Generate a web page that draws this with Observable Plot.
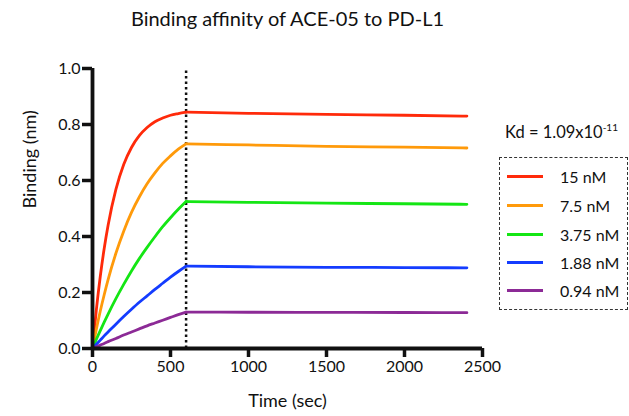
<!DOCTYPE html>
<html>
<head>
<meta charset="utf-8">
<script src="https://cdn.jsdelivr.net/npm/d3@7"></script>
<script src="https://cdn.jsdelivr.net/npm/@observablehq/plot@0.6"></script>
<style>
  body { margin: 0; background: #fff; font-family: Lato, "Open Sans", sans-serif; }
  #wrap { position: relative; width: 629px; height: 416px; }
  #kd { position: absolute; left: 505px; top: 121px; font-size: 16.5px; color: #111; white-space: nowrap; }
  #kd sup { font-size: 10px; }
  #legend { position: absolute; left: 499px; top: 157px; width: 129px; height: 153px;
            border: 1.5px dashed #333; box-sizing: border-box; }
  .row { position: absolute; left: 7px; height: 20px; display: flex; align-items: center; }
  .swatch { width: 36px; height: 3px; margin-right: 17px; }
  .lab { font-size: 16px; color: #111; }
</style>
</head>
<body>
<div id="wrap">
  <div id="chart"></div>
  <div id="kd"></div>
  <div id="legend"></div>
</div>
<script>
const title = "Binding affinity of ACE-05 to PD-L1";
const xLabel = "Time (sec)";
const yLabel = "Binding (nm)";
const kdText = "Kd = 1.09x10";
const kdExp = "-11";

const concentrations = ["15 nM", "7.5 nM", "3.75 nM", "1.88 nM", "0.94 nM"];
const colors = ["#ff2a0a", "#ff9a0a", "#14e614", "#143cff", "#8c2a96"];

const xTicks = [0, 500, 1000, 1500, 2000, 2500];
const yTicks = [0, 0.2, 0.4, 0.6, 0.8, 1.0];
const injectionEnd = 600;

// association phase
const assocTimes = [0, 25, 50, 75, 100, 150, 200, 250, 300, 350, 400, 450, 500, 550, 600];
const assoc15   = [0, 0.140, 0.258, 0.357, 0.440, 0.568, 0.657, 0.718, 0.760, 0.789, 0.810, 0.823, 0.833, 0.839, 0.844];
const assoc7_5  = [0, 0.070, 0.134, 0.192, 0.246, 0.340, 0.419, 0.486, 0.541, 0.588, 0.627, 0.661, 0.688, 0.712, 0.731];
const assoc3_75 = [0, 0.033, 0.064, 0.094, 0.123, 0.178, 0.229, 0.277, 0.321, 0.361, 0.399, 0.435, 0.467, 0.497, 0.525];
const assoc1_88 = [0, 0.015, 0.030, 0.045, 0.059, 0.087, 0.114, 0.140, 0.165, 0.188, 0.211, 0.233, 0.255, 0.275, 0.294];
const assoc0_94 = [0, 0.006, 0.012, 0.018, 0.0245, 0.036, 0.048, 0.059, 0.070, 0.081, 0.091, 0.101, 0.111, 0.121, 0.130];

// dissociation phase
const dissTimes = [600, 1000, 1500, 2000, 2400];
const diss15   = [0.844, 0.840, 0.836, 0.833, 0.830];
const diss7_5  = [0.731, 0.727, 0.722, 0.719, 0.716];
const diss3_75 = [0.525, 0.522, 0.519, 0.517, 0.515];
const diss1_88 = [0.294, 0.292, 0.290, 0.289, 0.288];
const diss0_94 = [0.130, 0.1295, 0.129, 0.1285, 0.128];

const assocSeries = [assoc15, assoc7_5, assoc3_75, assoc1_88, assoc0_94];
const dissSeries = [diss15, diss7_5, diss3_75, diss1_88, diss0_94];

const data = [];
concentrations.forEach((c, i) => {
  assocTimes.forEach((t, j) => data.push({t, v: assocSeries[i][j], series: c, seg: c + "-a"}));
  dissTimes.forEach((t, j) => data.push({t, v: dissSeries[i][j], series: c, seg: c + "-d"}));
});

const font = "Lato, 'Open Sans', sans-serif";

const chart = Plot.plot({
  width: 629,
  height: 416,
  marginLeft: 92,
  marginRight: 147,
  marginTop: 68,
  marginBottom: 68,
  style: {fontFamily: font, background: "white", color: "#111", overflow: "visible"},
  x: {domain: [0, 2500]},
  y: {domain: [0, 1]},
  color: {domain: concentrations, range: colors},
  marks: [
    Plot.ruleX([injectionEnd], {y1: 0, y2: 1, stroke: "#111", strokeWidth: 2.5, strokeDasharray: "2.5,3"}),
    Plot.line(data, {x: "t", y: "v", z: "seg", stroke: "series", strokeWidth: 2.8, curve: "monotone-x"}),
    Plot.axisX({ticks: xTicks, tickSize: 9, tickPadding: 3, strokeWidth: 3.5, fontSize: 16, label: null,
                tickFormat: d3.format("d"), stroke: "#111"}),
    Plot.axisY({ticks: yTicks, tickSize: 10, tickPadding: 2, strokeWidth: 3.5, fontSize: 16, label: null,
                tickFormat: d3.format(".1f"), stroke: "#111"}),
    Plot.ruleY([0], {x1: 0, x2: 2500, stroke: "#111", strokeWidth: 3.8}),
    Plot.ruleX([0], {y1: 0, y2: 1, stroke: "#111", strokeWidth: 3.8}),
    Plot.text([title], {frameAnchor: "top", dy: -57, fontSize: 20, fill: "#111"}),
    Plot.text([xLabel], {frameAnchor: "bottom", dy: 58, fontSize: 18, fill: "#111"}),
    Plot.text([yLabel], {frameAnchor: "left", dx: -62, rotate: -90, fontSize: 18, fill: "#111"})
  ]
});
document.getElementById("chart").appendChild(chart);

document.getElementById("kd").innerHTML = kdText + "<sup>" + kdExp + "</sup>";
const legend = document.getElementById("legend");
const rowTops = [8, 37, 66, 94, 122];
concentrations.forEach((c, i) => {
  const row = document.createElement("div");
  row.className = "row";
  row.style.top = rowTops[i] + "px";
  row.innerHTML = `<div class="swatch" style="background:${colors[i]}"></div><span class="lab">${c}</span>`;
  legend.appendChild(row);
});
</script>
</body>
</html>
